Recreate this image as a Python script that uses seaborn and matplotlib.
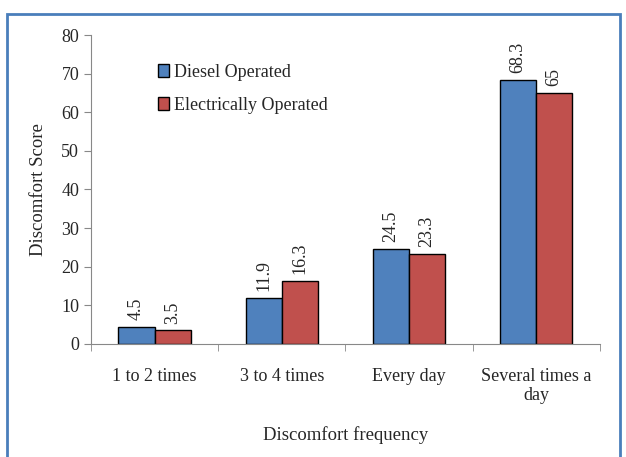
import pandas as pd
import matplotlib.pyplot as plt
import matplotlib.patches as patches
from matplotlib.ticker import FixedLocator
import seaborn as sns

# Datos
categorias = ['1 to 2 times', '3 to 4 times', 'Every day', 'Several times a\nday']
diesel = [4.5, 11.9, 24.5, 68.3]
electrico = [3.5, 16.3, 23.3, 65]
etiquetas = ['4.5', '11.9', '24.5', '68.3', '3.5', '16.3', '23.3', '65']

df = pd.DataFrame({
    'Frecuencia': categorias * 2,
    'Score': diesel + electrico,
    'Tipo': ['Diesel Operated'] * 4 + ['Electrically Operated'] * 4,
})

sns.set_style('white')
plt.rcParams['font.family'] = ['Liberation Serif', 'DejaVu Serif']

fig = plt.figure(figsize=(6.26, 4.57), dpi=100)
ax = fig.add_axes([0.1454, 0.2473, 0.958 - 0.1454, 0.9234 - 0.2473])

sns.barplot(data=df, x='Frecuencia', y='Score', hue='Tipo',
            palette=['#4F81BD', '#C0504D'], width=0.57,
            edgecolor='black', linewidth=1, saturation=1, ax=ax)

for i, cont in enumerate(ax.containers):
    ax.bar_label(cont, labels=etiquetas[i * 4:(i + 1) * 4], rotation=90,
                 fontsize=13, padding=5)

ax.set_ylim(0, 80)
ax.set_xlim(-0.5, 3.5)
ax.set_yticks(range(0, 81, 10))
ax.tick_params(axis='y', labelsize=13, direction='out', length=5, color='#888888', left=True)
ax.tick_params(axis='x', which='major', labelsize=13, length=0, pad=17)
ax.xaxis.set_minor_locator(FixedLocator([-0.5, 0.5, 1.5, 2.5, 3.5]))
ax.tick_params(axis='x', which='minor', direction='out', length=5, color='#888888', bottom=True)

for s in ['top', 'right']:
    ax.spines[s].set_visible(False)
for s in ['left', 'bottom']:
    ax.spines[s].set_color('#888888')

ax.set_xlabel('Discomfort frequency', fontsize=13.5, labelpad=16)
ax.set_ylabel('Discomfort Score', fontsize=13.5, labelpad=10)

ax.legend(loc='upper left', bbox_to_anchor=(0.1, 0.96), frameon=False,
          fontsize=13, handlelength=0.6, handleheight=0.7, handletextpad=0.3,
          labelspacing=0.9)

# Marco azul
fig.patches.append(patches.Rectangle((7 / 626, -0.05), 613 / 626, 1 - 14 / 457 + 0.05,
                                     transform=fig.transFigure, fill=False,
                                     edgecolor='#4A7EBB', linewidth=2))

fig.savefig('out.png', dpi=100)
